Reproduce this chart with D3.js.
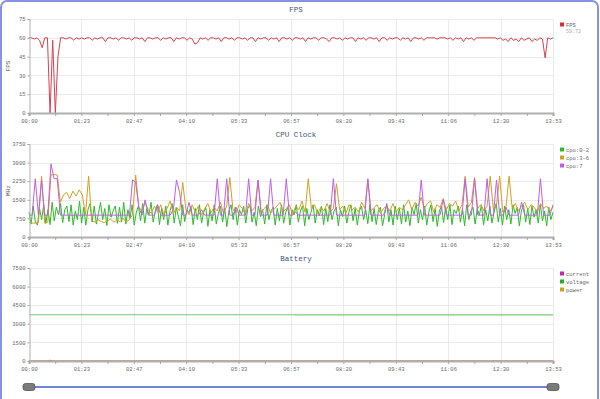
<!DOCTYPE html>
<html>
<head>
<meta charset="utf-8">
<script src="https://cdn.jsdelivr.net/npm/d3@7"></script>
<style>
  body { margin: 0; background: #fff; overflow: hidden; }
  svg { display: block; }
</style>
</head>
<body>
<svg id="chart" width="600" height="399"></svg>
<script>
// session length in seconds (13:53)
const duration = 833;
const timeLabels = ["00:00", "01:23", "02:47", "04:10", "05:33", "06:57", "08:20", "09:43", "11:06", "12:30", "13:53"];

const fpsTicks = [0, 15, 30, 45, 60, 75];
const cpuTicks = [0, 750, 1500, 2250, 3000, 3750];
const batteryTicks = [0, 1500, 3000, 4500, 6000, 7500];

// FPS samples, spread evenly over the session
const fps = [
  60,60,59,60,58,52,60,60,0,58,0,45,60,60,59,60,60,58,60,59,
  60,59,60,60,58,60,59,60,60,57,60,60,59,60,58,60,60,59,60,58,
  60,60,59,60,57,60,60,59,60,60,58,60,59,60,60,57,60,59,60,60,
  58,60,59,55,56,60,59,60,58,60,60,59,60,57,60,60,59,60,58,60,
  60,59,60,58,60,60,57,60,59,60,60,58,60,59,60,57,60,60,59,60,
  58,60,60,59,60,57,60,59,60,60,58,60,60,59,57,60,60,59,60,58,
  60,59,60,60,57,60,59,60,58,60,60,59,60,57,60,60,58,60,59,60,
  60,58,60,59,60,57,60,60,59,60,58,60,60,60,60,59,60,60,60,59,
  60,58,60,59,60,57,60,59,60,58,60,60,60,60,60,60,60,60,59,60,
  58,59,57,60,58,59,57,60,58,59,60,57,59,58,60,59,44,60,59,60
];

// CPU clock samples (MHz), each series spread evenly over the session
const cpu02 = [
  1000,520,1250,600,480,1150,700,1300,550,1100,500,1400,650,1200,900,1350,580,1100,1250,620,1300,480,1050,700,1450,
  560,1200,480,1100,1350,600,1250,520,950,1400,700,1150,460,1300,800,1050,1250,550,1200,600,1400,520,1100,750,1300,
  480,1000,1250,650,1350,560,1150,900,1400,600,1050,1300,500,1150,700,1250,480,1050,1350,560,1200,820,450,1300,620,
  1100,980,1250,500,1150,700,1300,560,1000,1200,430,1100,650,1300,520,950,1250,600,1150,420,1050,1300,700,1200,480,
  1100,900,1250,560,1150,1300,600,1000,450,1250,820,1100,520,1300,700,1050,1200,480,1150,650,1300,560,1000,1200,480,
  1100,900,1300,600,1050,1250,450,1150,700,1000,1300,560,1100,850,1250,500,1150,620,1300,700,1050,1200,450,1100,820,
  1250,560,1000,1300,650,1150,480,1050,1250,700,1100,540,1300,620,1150,500,1050,1200,450,900,1350,600,1100,480,1250,
  700,1150,520,1300,600,1050,450,1200,900,1350,560,1100,700,1250,480,1000,1300,620,1150,430,1050,1250,580,1200,700,
  1300,500,1100,950,1250,600,1150,450,1300,700,1050,1200,520,1150,880,1300,480,1100,650,1250,560,1000,1350,600,1150,
  480,1250,700,1100,520,1300,950,1200,450,1050,1300,600,1150,500,1250,800,1100,560,1300,650,1050,450,1200,700,1000
];
const cpu36 = [
  600,560,560,580,2450,560,600,2500,2520,2500,1400,1700,1800,1550,1850,1650,1900,1700,900,2450,
  650,600,700,620,580,650,720,600,680,620,750,600,700,900,2500,1200,1050,1400,1100,950,
  1250,1000,1300,900,1150,1450,950,1200,1050,2200,1100,900,1300,1000,1250,880,1150,1350,980,1200,
  1050,1400,950,1250,2400,1100,980,1300,1150,900,1350,1050,1200,2300,1000,1150,1300,950,1100,1250,
  1400,1000,1150,1300,900,1250,1100,1450,1000,2350,1150,1300,950,1200,1050,1350,1000,1150,2150,1100,
  1250,950,1300,1100,1200,1000,1400,1150,2300,1050,1200,1300,950,1150,1250,1050,1350,1000,1200,1100,
  1300,1500,1100,1400,1250,1600,1150,1350,1450,1000,1300,1200,1550,1100,1350,1250,1450,1050,1300,2450,
  1200,1400,2400,1150,1300,1050,1250,2450,1100,1300,2450,1000,1200,2450,1150,1350,1050,1250,1400,1100,
  1300,1200,1000,1350,1150,1250,1050,1200
];
const cpu7 = [
  880,880,2350,880,2300,880,880,2950,2350,2350,880,880,880,880,880,880,880,880,880,880,
  880,880,880,880,880,880,880,880,880,880,880,880,880,2300,2200,1200,880,1500,880,880,
  880,1300,880,880,880,880,1100,2300,1800,880,880,1400,880,880,880,1100,880,880,880,880,
  2350,880,880,2350,880,880,1200,880,880,880,2350,880,880,2300,880,880,880,2350,880,880,
  880,880,2350,880,880,1000,880,880,880,880,880,880,880,880,880,880,880,2350,880,880,
  880,880,880,880,880,880,880,880,2350,880,880,880,880,880,1300,880,880,880,880,880,
  880,880,880,880,880,2300,880,880,880,880,880,880,1500,880,880,880,880,880,880,2350,
  880,880,2350,880,880,880,2350,880,880,2300,880,880,1200,880,880,880,880,1400,880,880,
  880,880,880,2350,880,880,880,1300
];

// battery samples at their own timestamps (s)
const batteryTimes = [0, 28, 33, 38, 420, 424, 833];
const current = [0, 0, 60, 0, 0, 0, 0];
const voltage = [3730, 3730, 3730, 3730, 3730, 3712, 3712];
const power = [0, 0, 25, 0, 0, 0, 0];

const svg = d3.select("#chart");
const textFont = "'Liberation Mono', monospace";
const x = d3.scaleLinear().domain([0, duration]).range([29, 553]);
const labelTicks = timeLabels.map((d, i) => i * duration / (timeLabels.length - 1));
const minorTicks = d3.range(0, 21).map(i => i * duration / 20);

// page frame
svg.append("rect")
  .attr("x", 1).attr("y", 1)
  .attr("width", 597).attr("height", 430)
  .attr("rx", 6)
  .attr("fill", "none")
  .attr("stroke", "#8593e2")
  .attr("stroke-width", 2);

function drawPanel(cfg) {
  const y = d3.scaleLinear().domain(cfg.domain).range([cfg.bottom, cfg.top]);
  const g = svg.append("g");

  g.append("text")
    .attr("x", 296).attr("y", cfg.top - 7)
    .attr("text-anchor", "middle")
    .attr("font-family", textFont)
    .attr("font-size", 7.5)
    .attr("fill", "#46557a")
    .text(cfg.title);

  // grid
  g.append("g").selectAll("line").data(cfg.yTicks.slice(1)).join("line")
    .attr("x1", x.range()[0]).attr("x2", x.range()[1])
    .attr("y1", d => Math.round(y(d)) + 0.5).attr("y2", d => Math.round(y(d)) + 0.5)
    .attr("stroke", "#ebebeb");
  g.append("g").selectAll("line").data(labelTicks.slice(1)).join("line")
    .attr("x1", d => Math.round(x(d)) + 0.5).attr("x2", d => Math.round(x(d)) + 0.5)
    .attr("y1", cfg.top).attr("y2", cfg.bottom)
    .attr("stroke", "#ebebeb");

  cfg.series.forEach(s => {
    const n = s.values.length;
    const tx = s.times || s.values.map((v, i) => i * duration / (n - 1));
    g.append("path")
      .datum(s.values)
      .attr("fill", "none")
      .attr("stroke", s.color)
      .attr("stroke-width", s.width || 1)
      .attr("stroke-linejoin", "round")
      .attr("d", d3.line().x((d, i) => x(tx[i])).y(d => y(d)));
  });

  // axes
  const yAxis = g.append("g")
    .attr("transform", `translate(${x.range()[0] + 0.5},0)`)
    .call(d3.axisLeft(y).tickValues(cfg.yTicks).tickFormat(d3.format("d")).tickSize(2).tickPadding(2));
  const xAxis = g.append("g")
    .attr("transform", `translate(0,${cfg.bottom})`)
    .call(d3.axisBottom(x).tickValues(minorTicks).tickSize(3).tickPadding(3)
      .tickFormat((d, i) => i % 2 === 0 ? timeLabels[i / 2] : ""));
  xAxis.select(".domain").attr("stroke-width", 2.2);
  [yAxis, xAxis].forEach(a => {
    a.select(".domain").attr("stroke", "#b0b0b0");
    a.selectAll(".tick line").attr("stroke", "#a8a8a8");
    a.selectAll("text")
      .attr("font-family", textFont)
      .attr("font-size", 5.5)
      .attr("fill", "#6a6a6a");
  });

  if (cfg.yLabel) {
    g.append("text")
      .attr("transform", `translate(10,${(cfg.top + cfg.bottom) / 2}) rotate(-90)`)
      .attr("text-anchor", "middle")
      .attr("font-family", textFont)
      .attr("font-size", 6)
      .attr("fill", "#555")
      .text(cfg.yLabel);
  }

  // legend
  const lg = g.append("g").attr("transform", `translate(560,${cfg.top + 6})`);
  cfg.series.forEach((s, i) => {
    lg.append("rect")
      .attr("x", 0).attr("y", i * 8 - 2.5)
      .attr("width", 4).attr("height", 4)
      .attr("fill", s.legendColor || s.color);
    lg.append("text")
      .attr("x", 6).attr("y", i * 8 + 1.5)
      .attr("font-family", textFont)
      .attr("font-size", 5.5)
      .attr("fill", "#666")
      .text(s.name);
  });
  if (cfg.note) {
    lg.append("text")
      .attr("x", 6).attr("y", 8)
      .attr("font-family", textFont)
      .attr("font-size", 5)
      .attr("fill", "#aaa")
      .text(cfg.note);
  }
}

drawPanel({
  title: "FPS", yLabel: "FPS", top: 19, bottom: 113,
  domain: [0, 75], yTicks: fpsTicks, note: "59.72",
  series: [{ name: "FPS", values: fps, color: "#d8404f", legendColor: "#e0283c" }]
});

drawPanel({
  title: "CPU Clock", yLabel: "MHz", top: 144, bottom: 237,
  domain: [0, 3750], yTicks: cpuTicks,
  series: [
    { name: "cpu:0-2", values: cpu02, color: "#2cbb28" },
    { name: "cpu:3-6", values: cpu36, color: "#d4a020" },
    { name: "cpu:7", values: cpu7, color: "#c25ee6" }
  ]
});

drawPanel({
  title: "Battery", top: 268, bottom: 361,
  domain: [0, 7500], yTicks: batteryTicks,
  series: [
    { name: "current", values: current, times: batteryTimes, color: "#c02ab0" },
    { name: "voltage", values: voltage, times: batteryTimes, color: "#7cc87c", width: 1.2, legendColor: "#22b022" },
    { name: "power", values: power, times: batteryTimes, color: "#d4a020" }
  ]
});

// zoom slider
const slider = svg.append("g");
slider.append("line")
  .attr("x1", x(0)).attr("x2", x(duration))
  .attr("y1", 387).attr("y2", 387)
  .attr("stroke", "#7082dc")
  .attr("stroke-width", 2);
[0, duration].forEach(t => {
  slider.append("rect")
    .attr("x", x(t) - 6).attr("y", 383.5)
    .attr("width", 12).attr("height", 7)
    .attr("rx", 2.5)
    .attr("fill", "#7a7a7a")
    .attr("stroke", "#555")
    .attr("stroke-width", 0.8);
});
</script>
</body>
</html>
